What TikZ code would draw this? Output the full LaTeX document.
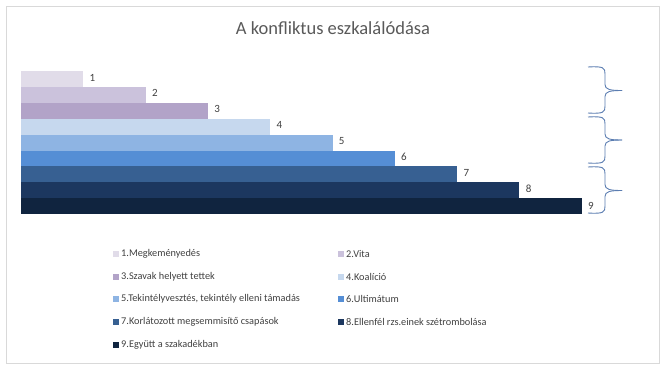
\documentclass[tikz,border=0pt]{standalone}
\usepackage{fontspec}
\setmainfont{Carlito}
\definecolor{framegray}{HTML}{D9D9D9}
\definecolor{titlegray}{HTML}{595959}
\definecolor{textgray}{HTML}{404040}
\definecolor{bracecol}{HTML}{5B7DB1}
\definecolor{ca}{HTML}{E1DCE9}
\definecolor{cb}{HTML}{CBC2DC}
\definecolor{cc}{HTML}{B2A3C8}
\definecolor{cd}{HTML}{C6D8EE}
\definecolor{ce}{HTML}{8EB4E3}
\definecolor{cf}{HTML}{558ED5}
\definecolor{cg}{HTML}{376092}
\definecolor{ch}{HTML}{1C375F}
\definecolor{ci}{HTML}{10243F}
\tikzset{
  barlabel/.style={anchor=west,inner sep=0pt,font=\fontsize{11}{13}\selectfont,text=textgray},
  legtext/.style={anchor=west,inner sep=0pt,font=\fontsize{10.3}{12}\selectfont,text=textgray},
  legbox/.style={minimum size=6pt,inner sep=0pt},
  bracepath/.style={draw=bracecol,line width=0.9pt}
}
\newcommand{\konfbrace}[3]{%
  \draw[bracepath] (588,#1) .. controls (604,#1-1) and (605,#1+1) .. (605,#1+7) -- (605,#2-6)
    .. controls (605,#2-1) and (610,#2) .. (622,#2);
  \draw[bracepath] (622,#2) .. controls (610,#2) and (605,#2+1) .. (605,#2+6) -- (605,#3-7)
    .. controls (605,#3-1) and (604,#3+1) .. (588,#3);
}
\begin{document}
\begin{tikzpicture}[x=1pt,y=-1pt]
\useasboundingbox (0,0) rectangle (669,373);
\draw[framegray,line width=1pt] (6,6) rectangle (659,363);
\node[font=\fontsize{18.5}{22}\selectfont,text=titlegray] (title) at (333,28) {A konfliktus eszkalálódása};
% bars
\fill[ca] (21,71.0) rectangle (83.3,86.9);
\fill[cb] (21,86.9) rectangle (145.6,102.8);
\fill[cc] (21,102.8) rectangle (207.9,118.7);
\fill[cd] (21,118.7) rectangle (270.2,134.6);
\fill[ce] (21,134.6) rectangle (332.5,150.5);
\fill[cf] (21,150.5) rectangle (394.8,166.4);
\fill[cg] (21,166.4) rectangle (457.1,182.3);
\fill[ch] (21,182.3) rectangle (519.4,198.2);
\fill[ci] (21,198.2) rectangle (581.7,214.1);
% values
\node[barlabel] (v1) at (89.5,77.5) {1};
\node[barlabel] (v2) at (151.8,93.4) {2};
\node[barlabel] (v3) at (214.1,109.3) {3};
\node[barlabel] (v4) at (276.4,125.2) {4};
\node[barlabel] (v5) at (338.7,141.1) {5};
\node[barlabel] (v6) at (401.0,157.0) {6};
\node[barlabel] (v7) at (463.3,172.9) {7};
\node[barlabel] (v8) at (525.6,188.8) {8};
\node[barlabel] (v9) at (587.9,206.2) {9};
% braces
\konfbrace{67}{90.5}{113}
\konfbrace{117}{140}{163}
\konfbrace{167}{190.5}{213}
% legend
\node[legbox,fill=ca] (k1) at (116,254) {};
\node[legtext] (l1) at (121,254) {1.Megkeményedés};
\node[legbox,fill=cb] (k2) at (341,254) {};
\node[legtext] (l2) at (346,254) {2.Vita};
\node[legbox,fill=cc] (k3) at (116,276.5) {};
\node[legtext] (l3) at (121,276.5) {3.Szavak helyett tettek};
\node[legbox,fill=cd] (k4) at (341,276.5) {};
\node[legtext] (l4) at (346,276.5) {4.Koalíció};
\node[legbox,fill=ce] (k5) at (116,299) {};
\node[legtext] (l5) at (121,299) {5.Tekintélyvesztés, tekintély elleni támadás};
\node[legbox,fill=cf] (k6) at (341,299) {};
\node[legtext] (l6) at (346,299) {6.Ultimátum};
\node[legbox,fill=cg] (k7) at (116,322) {};
\node[legtext] (l7) at (121,322) {7.Korlátozott megsemmisítő csapások};
\node[legbox,fill=ch] (k8) at (341,322) {};
\node[legtext] (l8) at (346,322) {8.Ellenfél rzs.einek szétrombolása};
\node[legbox,fill=ci] (k9) at (116,345) {};
\node[legtext] (l9) at (121,345) {9.Együtt a szakadékban};
\end{tikzpicture}
\end{document}
